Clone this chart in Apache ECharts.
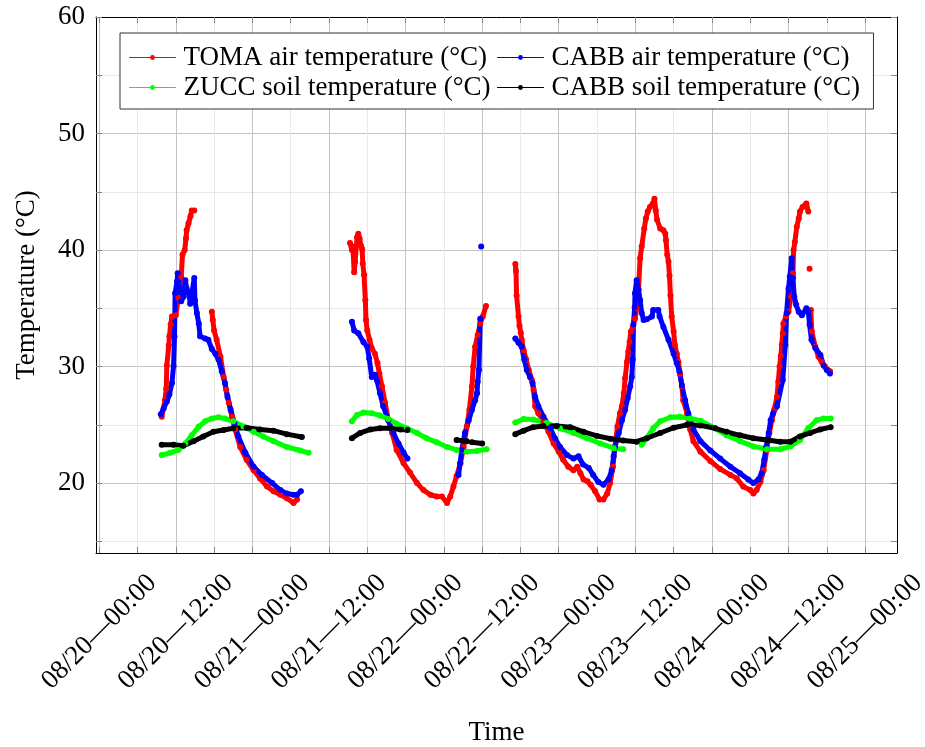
<!DOCTYPE html>
<html>
<head>
<meta charset="utf-8">
<script src="https://cdn.jsdelivr.net/npm/echarts@6/dist/echarts.min.js"></script>
<style>
  html, body { margin: 0; padding: 0; background: #fff; }
  #chart { width: 925px; height: 747px; }
</style>
</head>
<body>
<div id="chart"></div>
<script>
// hours counted from 08/20 00:00; null marks a gap in the record
const xTickHours = [0, 6, 12, 18, 24, 30, 36, 42, 48, 54, 60, 66, 72, 78, 84, 90, 96, 102, 108, 114, 120];
const xLabelHours = [0, 12, 24, 36, 48, 60, 72, 84, 96, 108, 120];
const xLabels = ['08/20—00:00', '08/20—12:00', '08/21—00:00', '08/21—12:00', '08/22—00:00', '08/22—12:00',
  '08/23—00:00', '08/23—12:00', '08/24—00:00', '08/24—12:00', '08/25—00:00'];
const yTickValues = [15, 20, 25, 30, 35, 40, 45, 50, 55, 60];
const yLabelValues = [20, 30, 40, 50, 60];

const tomaAir = [
  [9.8, 25.7], [10.3, 27.1], [10.5, 28.1], [10.6, 30.1], [10.9, 31.8], [11.0, 32.6], [11.2, 33.6], [11.4, 34.3],
  [12.0, 34.4], [12.4, 35.9], [12.85, 37.7], [13.05, 39.6], [13.4, 40.0], [13.6, 41.0], [13.7, 41.7], [14.0, 42.3],
  [14.3, 42.9], [14.5, 43.4], [14.9, 43.4], null,
  [17.65, 34.7], [17.8, 34.0], [18.0, 33.1], [18.4, 32.3], [19.0, 30.85], [19.5, 29.1], [19.9, 28.0], [20.3, 26.9],
  [20.8, 25.7], [21.3, 24.6], [22.1, 23.1], [23.1, 22.0], [24.2, 21.1], [25.2, 20.4], [26.3, 19.7], [27.3, 19.3],
  [28.4, 19.0], [29.4, 18.7], [30.45, 18.3], [31.0, 18.6], null,
  [39.3, 40.6], [39.6, 40.0], [39.75, 40.3], [39.95, 38.1], [40.1, 39.0], [40.4, 41.1], [40.6, 41.4], [40.8, 41.0],
  [41.0, 40.4], [41.2, 40.1], [41.3, 38.85], [41.5, 37.85], [41.7, 35.7], [41.8, 34.0], [42.0, 33.1], [42.35, 32.3],
  [42.7, 31.6], [43.2, 31.1], [43.6, 30.3], [43.9, 29.4], [44.3, 28.3], [44.8, 26.9], [45.3, 25.4], [45.9, 24.3],
  [46.6, 22.85], [47.7, 21.7], [48.7, 20.9], [49.8, 20.0], [50.8, 19.4], [51.9, 19.0], [52.9, 18.85], [53.7, 18.85],
  [54.5, 18.3], [55.0, 18.85], [55.5, 19.7], [56.0, 20.6], [56.6, 21.7], [57.1, 23.1], [57.6, 24.85], [58.0, 26.3],
  [58.4, 28.3], [58.6, 30.0], [58.9, 31.7], [59.3, 32.7], [59.7, 33.7], [60.1, 34.3], [60.6, 35.2], null,
  [65.2, 38.8], [65.3, 38.2], [65.4, 36.1], [65.7, 34.3], [65.85, 33.5], [66.05, 32.9], [66.2, 32.3], [66.5, 31.4],
  [66.9, 30.6], [67.3, 29.7], [67.8, 28.85], [68.05, 28.0], [68.3, 26.6], [68.8, 26.0], [69.6, 25.3], [70.4, 24.4],
  [71.2, 23.4], [72.0, 22.7], [72.7, 22.0], [73.5, 21.4], [74.3, 21.1], [74.9, 21.4], [75.4, 20.85], [75.9, 20.3],
  [76.5, 20.15], [77.0, 19.85], [77.7, 19.3], [78.4, 18.6], [79.0, 18.6], [79.6, 19.1], [80.05, 20.0], [80.5, 21.4],
  [80.8, 23.1], [81.2, 24.85], [81.6, 26.0], [81.9, 26.6], [82.2, 27.7], [82.4, 29.0], [82.7, 30.4], [82.9, 31.3],
  [83.1, 32.1], [83.3, 33.0], [83.6, 33.4], [83.95, 34.1], [84.2, 35.0], [84.5, 36.6], [84.75, 39.3], [85.0, 40.3],
  [85.4, 41.85], [85.65, 42.7], [85.95, 43.3], [86.3, 43.7], [86.75, 44.0], [87.0, 44.4], [87.2, 43.4], [87.4, 42.6],
  [87.9, 41.85], [88.4, 41.7], [88.7, 41.4], [88.8, 40.85], [89.0, 39.6], [89.2, 39.0], [89.35, 37.8], [89.5, 36.1],
  [89.7, 34.3], [90.0, 33.0], [90.2, 31.85], [90.5, 31.1], [90.75, 30.4], [91.0, 29.4], [91.3, 28.3], [91.5, 27.1],
  [92.1, 26.0], [92.6, 24.6], [93.1, 23.6], [94.2, 22.7], [95.75, 21.9], [97.3, 21.2], [98.9, 20.7], [99.9, 20.4],
  [100.9, 19.7], [102.0, 19.4], [102.5, 19.1], [103.0, 19.4], [103.6, 20.1], [104.1, 21.1], [104.6, 22.85], [105.0, 24.3],
  [105.4, 25.4], [105.75, 26.3], [106.2, 27.4], [106.4, 28.7], [106.6, 30.0], [106.8, 30.9], [106.95, 31.9], [107.1, 32.85],
  [107.2, 33.7], [107.6, 34.3], [108.0, 34.7], [108.4, 36.0], [108.7, 38.0], [108.8, 40.0], [109.0, 40.7], [109.3, 42.0],
  [109.6, 42.7], [109.8, 43.3], [110.2, 43.7], [110.8, 44.0], [111.1, 43.3], null, [111.3, 38.4], null,
  [111.5, 34.85], [111.65, 33.0], [112.2, 31.7], [112.7, 30.85], [113.2, 30.4], [113.7, 30.0], [114.5, 29.6]
];

const cabbAir = [
  [9.66, 25.9], [10.1, 26.4], [10.6, 27.0], [11.0, 27.6], [11.4, 28.6], [11.65, 30.05], [11.8, 32.6], [11.9, 36.3],
  [12.2, 37.3], [12.3, 38.0], [12.6, 36.6], [12.85, 35.6], [13.2, 36.0], [13.5, 37.4], [13.7, 36.7], [14.15, 36.0],
  [14.26, 35.4], [14.9, 37.6], [15.0, 35.7], [15.3, 34.6], [15.6, 33.7], [15.8, 32.6], [16.6, 32.4], [17.1, 32.3],
  [17.65, 31.5], [18.2, 31.1], [18.7, 30.6], [19.2, 29.6], [19.7, 28.6], [20.1, 27.4], [20.6, 26.3], [21.2, 25.1],
  [21.8, 24.0], [22.9, 22.6], [24.2, 21.4], [25.5, 20.7], [27.1, 20.0], [28.4, 19.4], [29.4, 19.1], [30.4, 19.0],
  [31.0, 19.0], [31.6, 19.3], null,
  [39.6, 33.85], [39.95, 33.1], [40.6, 32.85], [41.4, 32.1], [42.0, 31.7], [42.3, 30.7], [42.7, 29.1], [43.2, 29.3],
  [43.5, 28.85], [44.0, 27.7], [44.5, 26.6], [45.3, 25.4], [46.1, 24.3], [46.9, 23.4], [47.7, 22.6], [48.3, 22.1], null,
  [56.3, 20.7], [56.55, 21.7], [56.8, 22.85], [57.3, 24.3], [57.9, 25.4], [58.4, 26.3], [58.9, 27.1], [59.2, 27.7],
  [59.3, 28.7], [59.5, 29.7], [59.7, 34.1], null, [59.85, 40.3], null,
  [65.2, 32.4], [65.7, 32.05], [66.2, 31.7], [66.6, 30.6], [67.0, 29.7], [67.5, 29.1], [67.9, 28.6], [68.3, 27.4],
  [68.8, 26.6], [69.6, 25.7], [70.7, 24.7], [71.4, 23.85], [72.2, 23.1], [73.3, 22.4], [74.3, 22.1], [75.1, 22.3],
  [75.8, 21.6], [76.7, 21.3], [77.4, 20.7], [78.2, 20.1], [79.0, 19.85], [79.8, 20.3], [80.3, 21.1], [80.6, 22.3],
  [80.8, 23.1], [81.4, 24.3], [81.9, 25.4], [82.4, 26.3], [82.8, 27.3], [83.2, 28.3], [83.45, 29.1], [83.6, 30.6],
  [83.7, 33.6], [83.9, 35.1], [83.95, 36.3], [84.2, 37.4], [84.5, 36.6], [84.75, 35.7], [85.0, 34.6], [85.3, 34.0],
  [85.8, 34.05], [86.6, 34.3], [86.8, 34.85], [87.6, 34.85], [87.8, 34.3], [88.4, 33.4], [89.2, 32.3], [90.0, 31.1],
  [90.5, 30.3], [90.9, 29.6], [91.3, 28.4], [91.8, 27.1], [92.3, 26.0], [93.1, 24.6], [94.2, 23.6], [95.75, 22.8],
  [97.3, 22.1], [98.9, 21.4], [100.4, 20.85], [101.7, 20.3], [102.5, 20.0], [103.3, 20.3], [103.8, 20.85], [104.2, 22.0],
  [104.5, 23.1], [104.9, 24.3], [105.2, 25.4], [105.6, 26.0], [106.2, 26.6], [107.1, 28.85], [107.5, 31.85], [107.7, 34.6],
  [108.0, 36.7], [108.2, 37.7], [108.5, 39.3], [108.7, 37.6], [108.9, 36.0], [109.2, 35.3], [109.6, 34.7], [110.1, 34.4],
  [110.8, 35.0], [111.1, 34.7], [111.3, 33.6], [111.6, 32.3], [112.2, 31.6], [113.0, 31.0], [113.5, 30.1], [114.0, 29.7],
  [114.5, 29.4]
];

const zuccSoil = [
  [9.8, 22.4], [11.1, 22.6], [12.4, 22.85], [13.5, 23.4], [14.5, 24.1], [15.6, 24.85], [16.6, 25.3], [17.65, 25.55],
  [18.7, 25.65], [19.7, 25.55], [21.0, 25.3], [22.6, 24.85], [24.2, 24.4], [25.7, 24.0], [27.3, 23.6], [29.4, 23.1],
  [31.5, 22.8], [32.8, 22.6], null,
  [39.6, 25.3], [40.4, 25.85], [41.4, 26.05], [42.7, 26.0], [44.0, 25.8], [45.3, 25.5], [46.6, 25.1], [48.2, 24.7],
  [49.8, 24.3], [51.3, 23.85], [52.9, 23.5], [54.5, 23.1], [56.0, 22.85], [57.6, 22.7], [59.2, 22.75], [60.7, 22.9], null,
  [65.2, 25.2], [66.5, 25.5], [68.0, 25.45], [70.1, 25.15], [72.2, 24.7], [74.3, 24.3], [76.4, 23.85], [78.5, 23.4],
  [80.6, 23.0], [82.1, 22.9], null,
  [85.0, 23.3], [85.8, 23.85], [86.8, 24.7], [87.9, 25.3], [89.5, 25.65], [91.0, 25.7], [92.6, 25.55], [94.2, 25.35],
  [96.5, 24.7], [98.3, 24.1], [100.4, 23.6], [102.5, 23.15], [104.6, 22.9], [106.7, 22.9], [108.3, 23.15], [109.8, 23.7],
  [111.1, 24.7], [112.4, 25.4], [113.5, 25.55], [114.6, 25.55]
];

const cabbSoil = [
  [9.8, 23.3], [11.65, 23.3], [13.2, 23.2], [14.8, 23.6], [16.3, 24.0], [17.9, 24.4], [19.5, 24.55], [21.0, 24.7],
  [23.1, 24.75], [25.2, 24.6], [27.3, 24.5], [29.4, 24.2], [31.75, 23.95], null,
  [39.6, 23.85], [40.9, 24.3], [42.5, 24.6], [44.0, 24.7], [45.6, 24.7], [47.2, 24.6], [48.3, 24.55], null,
  [56.0, 23.7], [57.6, 23.6], null, [58.4, 23.5], [60.0, 23.4], null,
  [65.2, 24.2], [66.5, 24.5], [68.0, 24.8], [69.6, 24.9], [71.7, 24.9], [73.8, 24.8], [75.9, 24.4], [78.0, 24.05],
  [80.1, 23.8], [82.1, 23.65], [84.2, 23.55], [85.8, 23.85], [87.9, 24.3], [90.0, 24.75], [92.1, 25.0], [94.2, 24.95],
  [96.5, 24.7], [98.3, 24.4], [100.4, 24.1], [102.5, 23.85], [104.6, 23.7], [106.7, 23.55], [108.3, 23.55], [109.8, 24.0],
  [111.4, 24.3], [112.95, 24.6], [114.6, 24.8]
];

const FONT = 'Liberation Serif';
const chart = echarts.init(document.getElementById('chart'));

function gaps(points) {
  return points.map(p => (p === null ? ['-', '-'] : p));
}

function makeSeries(name, color, points) {
  return {
    name: name,
    type: 'line',
    data: gaps(points),
    symbol: 'circle',
    symbolSize: 6,
    showSymbol: true,
    connectNulls: false,
    itemStyle: { color: color },
    lineStyle: { color: color, width: 5, cap: 'round', join: 'round' },
    emphasis: { disabled: true }
  };
}

const frameAxis = {
  axisLine: { show: true, onZero: false, lineStyle: { color: '#000', width: 1 } },
  axisLabel: { show: false },
  splitLine: { show: false }
};

// two legend columns; the first one carries the framed box
const legendBase = {
  orient: 'vertical',
  itemGap: 3,
  itemWidth: 46,
  itemHeight: 6,
  selectedMode: false,
  lineStyle: { width: 1 },
  textStyle: { fontFamily: FONT, fontSize: 27, color: '#000', padding: [0, 0, 0, 3] }
};

chart.setOption({
  animation: false,
  backgroundColor: '#fff',
  grid: { left: 96, top: 17, width: 801, height: 536, outerBoundsMode: 'none' },
  legend: [
    Object.assign({}, legendBase, {
      left: 120,
      top: 33,
      padding: [11, 383, 8, 9],
      backgroundColor: '#fff',
      borderColor: '#333',
      borderWidth: 1,
      z: 4,
      data: ['TOMA air temperature (°C)', 'ZUCC soil temperature (°C)']
    }),
    Object.assign({}, legendBase, {
      left: 497,
      top: 44,
      padding: 0,
      z: 5,
      data: ['CABB air temperature (°C)', 'CABB soil temperature (°C)']
    })
  ],
  xAxis: [
    {
      type: 'value',
      min: -0.5,
      max: 125,
      position: 'bottom',
      name: 'Time',
      nameLocation: 'middle',
      nameGap: 166,
      nameTextStyle: { fontFamily: FONT, fontSize: 27, color: '#000' },
      axisLine: { show: true, onZero: false, lineStyle: { color: '#000', width: 1 } },
      axisTick: { show: true, inside: true, length: 6, customValues: xTickHours, lineStyle: { color: '#888' } },
      axisLabel: {
        customValues: xLabelHours,
        formatter: v => xLabels[xLabelHours.indexOf(v)],
        rotate: 45,
        align: 'center',
        verticalAlign: 'middle',
        margin: 79,
        fontFamily: FONT,
        fontSize: 27,
        color: '#000'
      },
      splitLine: { show: true, lineStyle: { color: ['#c4c4c4', '#e8e8e8'], width: 1 } }
    },
    Object.assign({
      type: 'value', min: -0.5, max: 125, position: 'top',
      axisTick: { show: true, inside: true, length: 6, customValues: xTickHours, lineStyle: { color: '#888' } }
    }, frameAxis)
  ],
  yAxis: [
    {
      type: 'value',
      min: 14,
      max: 60,
      position: 'left',
      name: 'Temperature (°C)',
      nameLocation: 'middle',
      nameGap: 56,
      nameTextStyle: { fontFamily: FONT, fontSize: 27, color: '#000' },
      axisLine: { show: true, onZero: false, lineStyle: { color: '#000', width: 1 } },
      axisTick: { show: true, inside: true, length: 6, customValues: yTickValues, lineStyle: { color: '#888' } },
      axisLabel: { customValues: yLabelValues, margin: 11, fontFamily: FONT, fontSize: 27, color: '#000' },
      splitLine: { show: true, lineStyle: { color: ['#e8e8e8', '#c4c4c4'], width: 1 } }
    },
    Object.assign({
      type: 'value', min: 14, max: 60, position: 'right',
      axisTick: { show: true, inside: true, length: 6, customValues: yTickValues, lineStyle: { color: '#888' } }
    }, frameAxis)
  ],
  series: [
    makeSeries('TOMA air temperature (°C)', '#ff0000', tomaAir),
    makeSeries('CABB air temperature (°C)', '#0000ff', cabbAir),
    makeSeries('ZUCC soil temperature (°C)', '#00ff00', zuccSoil),
    makeSeries('CABB soil temperature (°C)', '#000000', cabbSoil)
  ]
});
</script>
</body>
</html>
